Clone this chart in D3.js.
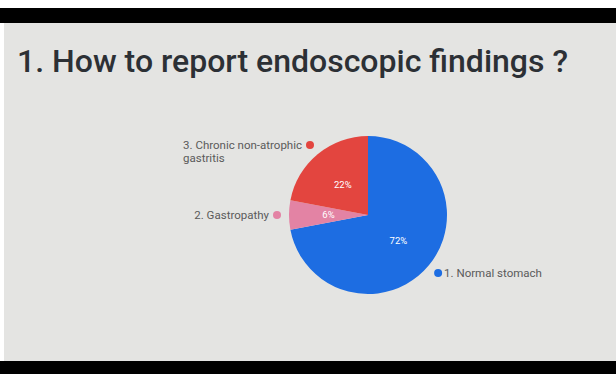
<!DOCTYPE html>
<meta charset="utf-8">
<head>
<style>
  body { margin: 0; background: #fff; }
  .title { font-family: Roboto, sans-serif; font-weight: 500; fill: #2c3035; }
  .lab { font-family: Roboto, sans-serif; font-size: 11.5px; fill: #5a5a5a; }
  .pct { font-family: Roboto, sans-serif; font-size: 9.5px; fill: #fff; }
</style>
</head>
<body>
<script src="https://d3js.org/d3.v7.min.js"></script>
<script>
// data
var categories = ["1. Normal stomach", "2. Gastropathy", "3. Chronic non-atrophic gastritis"];
var labelLines = [["1. Normal stomach"], ["2. Gastropathy"], ["3. Chronic non-atrophic", "gastritis"]];
var values = [72, 6, 22];
var colors = ["#1d6de2", "#e383a4", "#e3453f"];

var W = 616, H = 374;
var svg = d3.select("body").append("svg")
    .attr("width", W).attr("height", H);

// frame: black bars and slide background
svg.append("rect").attr("width", W).attr("height", H).attr("fill", "#fff");
svg.append("rect").attr("x", 0).attr("y", 8).attr("width", W).attr("height", 15).attr("fill", "#000");
svg.append("rect").attr("x", 0).attr("y", 361).attr("width", W).attr("height", 13).attr("fill", "#000");
svg.append("rect").attr("x", 4).attr("y", 23).attr("width", W - 4).attr("height", 338).attr("fill", "#e4e4e2");

// title
svg.append("text").attr("class", "title")
    .attr("x", 17).attr("y", 72)
    .style("font-size", "32px")
    .attr("textLength", 551).attr("lengthAdjust", "spacingAndGlyphs")
    .text("1. How to report endoscopic findings ?");

// pie
var cx = 368, cy = 215, r = 79;
var pie = d3.pie().sort(null).value(function(d) { return d; });
var arcs = pie(values);
var arc = d3.arc().innerRadius(0).outerRadius(r);
var g = svg.append("g").attr("transform", "translate(" + cx + "," + cy + ")");

g.selectAll("path").data(arcs).enter().append("path")
    .attr("d", arc)
    .attr("fill", function(d, i) { return colors[i]; });

g.selectAll(".pct").data(arcs).enter().append("text")
    .attr("class", "pct")
    .attr("transform", function(d) { return "translate(" + arc.centroid(d) + ")"; })
    .attr("text-anchor", "middle")
    .attr("dy", "0.35em")
    .text(function(d) { return d.value + "%"; });

// outside labels with dots
var outer = d3.arc().innerRadius(91).outerRadius(91);
var lab = g.selectAll(".lg").data(arcs).enter().append("g")
    .attr("transform", function(d) { return "translate(" + outer.centroid(d) + ")"; });
lab.append("circle").attr("r", 4).attr("fill", function(d, i) { return colors[i]; });
lab.each(function(d, i) {
  var mid = (d.startAngle + d.endAngle) / 2;
  var right = mid < Math.PI;
  var node = d3.select(this);
  // first line decides the block's left edge; other lines align to it
  var first = node.append("text").attr("class", "lab")
      .attr("text-anchor", right ? "start" : "end")
      .attr("x", right ? 6 : -8).attr("y", 4)
      .text(labelLines[i][0]);
  var x0 = right ? 6 : -8 - first.node().getComputedTextLength();
  labelLines[i].slice(1).forEach(function(s, k) {
    node.append("text").attr("class", "lab")
        .attr("x", x0).attr("y", 4 + 13.5 * (k + 1))
        .text(s);
  });
});
</script>
</body>
